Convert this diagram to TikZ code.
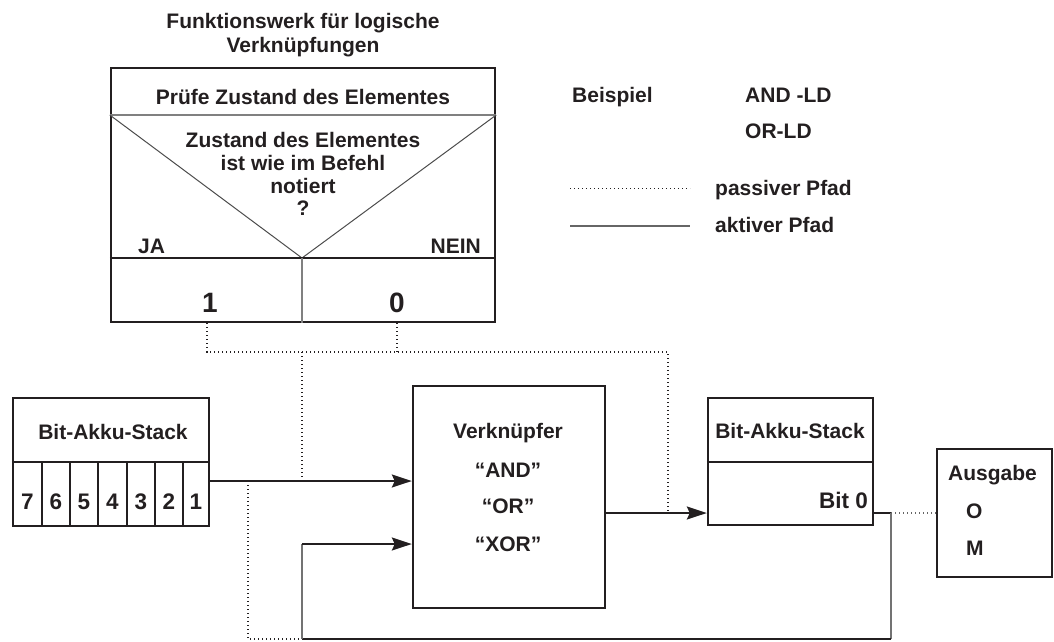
\documentclass[tikz,border=0pt]{standalone}
\usepackage{fontspec}
\setmainfont{Liberation Sans}
\usetikzlibrary{arrows.meta}
\definecolor{ink}{RGB}{35,31,32}
\begin{document}
\begin{tikzpicture}[x=1pt,y=-1pt,
  box/.style={draw=ink, line width=2.4pt, inner sep=0pt},
  txt/.style={font=\fontsize{21}{25}\selectfont\bfseries, text=ink, inner sep=0pt},
  big/.style={font=\fontsize{28}{32}\selectfont\bfseries, text=ink, inner sep=0pt},
  dig/.style={font=\fontsize{22.5}{26}\selectfont\bfseries, text=ink, inner sep=0pt},
  act/.style={line width=1.6pt, draw=ink},
  actg/.style={line width=1.3pt, draw=black!55},
  thin/.style={line width=1pt, draw=black!70},
  pas/.style={line width=1.2pt, draw=ink, dash pattern=on 1.2pt off 2.8pt},
  arr/.style={-{Stealth[length=20pt,width=13pt,inset=3pt]}}
]
\useasboundingbox (0,0) rectangle (1054,641);

% ---------- top box ----------
\node[txt, anchor=base] (t1) at (303,28) {Funktionswerk für logische};
\node[txt, anchor=base] (t2) at (303,52) {Verknüpfungen};
\node[box, minimum width=384pt, minimum height=254pt] (pruef) at (303,195) {};
\coordinate (apex) at (302,258);
\draw[line width=1.5pt, draw=black!50] (pruef.west |- 0,115) -- (pruef.east |- 0,115);
\draw[thin] (pruef.west |- 0,115) -- (apex) -- (pruef.east |- 0,115);
\draw[line width=1.5pt, draw=ink] (pruef.west |- apex) -- (pruef.east |- apex);
\draw[line width=1.5pt, draw=black!50] (apex) -- (apex |- pruef.south);
\node[txt, anchor=base] (p1) at (303,104) {Prüfe Zustand des Elementes};
\node[txt, anchor=base] (q1) at (303,147) {Zustand des Elementes};
\node[txt, anchor=base] (q2) at (303,170) {ist wie im Befehl};
\node[txt, anchor=base] (q3) at (303,193) {notiert};
\node[txt, anchor=base] (q4) at (303,215) {?};
\node[txt, anchor=base west] (ja) at (138,253) {JA};
\node[txt, anchor=base east] (nein) at (481,253) {NEIN};
\node[big, anchor=base] (one) at (210,312) {1};
\node[big, anchor=base] (zero) at (397,312) {0};

% ---------- legend ----------
\node[txt, anchor=base west] (bsp) at (572,102) {Beispiel};
\node[txt, anchor=base west] (andld) at (745,102) {AND -LD};
\node[txt, anchor=base west] (orld) at (745,138) {OR-LD};
\node[txt, anchor=base west] (pasl) at (715,195) {passiver Pfad};
\node[txt, anchor=base west] (aktl) at (715,232) {aktiver Pfad};
\coordinate (lp1) at (570,188); \coordinate (lp2) at (690,188);
\coordinate (la1) at (570,226); \coordinate (la2) at (690,226);
\draw[pas, line width=1pt] (lp1) -- (lp2);
\draw[line width=1.8pt, draw=black!60] (la1) -- (la2);

% ---------- left stack ----------
\node[box, minimum width=196pt, minimum height=128pt] (stackA) at (111,462) {};
\draw[line width=2.2pt, draw=ink] (stackA.west |- 0,462) -- (stackA.east |- 0,462);
\foreach \x in {42,70,98,127,155,183}
  \draw[line width=1.2pt, draw=ink] (\x,462) -- (\x,0 |- stackA.south);
\node[txt, anchor=base] (sAt) at (113,439) {Bit-Akku-Stack};
\foreach \x/\d in {27.5/7,56/6,84/5,112.5/4,141/3,169/2,196/1}
  \node[dig, anchor=base] (d\d) at (\x,509) {\d};

% ---------- Verknuepfer ----------
\node[box, minimum width=192pt, minimum height=222pt] (verk) at (509,497) {};
\node[txt, anchor=base] (v1) at (508,438) {Verknüpfer};
\node[txt, anchor=base] (v2) at (508,477) {“AND”};
\node[txt, anchor=base] (v3) at (508,513) {“OR”};
\node[txt, anchor=base] (v4) at (508,551) {“XOR”};

% ---------- right stack ----------
\node[box, minimum width=165pt, minimum height=127pt] (stackB) at (790.5,461.5) {};
\draw[line width=2.2pt, draw=ink] (stackB.west |- 0,462) -- (stackB.east |- 0,462);
\node[txt, anchor=base] (sBt) at (790,438) {Bit-Akku-Stack};
\node[dig, anchor=base east] (bit0) at (868,508) {Bit 0};

% ---------- Ausgabe ----------
\node[box, minimum width=115pt, minimum height=128pt] (aus) at (994.5,513) {};
\node[txt, anchor=base west] (ausg) at (948,480) {Ausgabe};
\node[txt, anchor=base west] (ao) at (966,518) {O};
\node[txt, anchor=base west] (am) at (966,555) {M};

% ---------- coordinates ----------
\coordinate (bj) at (891,513);
\coordinate (br) at (891,639);
\coordinate (bl) at (302,639);
\coordinate (fb) at (302,544);
\coordinate (dj) at (248,481);
\coordinate (h1) at (207,352);
\coordinate (h2) at (668,352);
\coordinate (hm) at (302,352);
\coordinate (h0) at (397,352);

% ---------- active paths ----------
\draw[act, arr] (stackA.east |- 0,481) -- (verk.west |- 0,481);
\draw[act, arr] (verk.east |- 0,513) -- (stackB.west |- 0,513);
\draw[act] (stackB.east |- bj) -- (bj);
\draw[actg] (bj) -- (br);
\draw[act] (br) -- (bl);
\draw[actg] (bl) -- (fb);
\draw[act, arr] (fb) -- (verk.west |- fb);

% ---------- passive paths ----------
\draw[pas, draw=black!60] (bj) -- (aus.west |- bj);
\draw[pas] (pruef.south -| h1) -- (h1) -- (h2) -- (h2 |- 0,513);
\draw[pas] (pruef.south -| h0) -- (h0);
\draw[pas] (hm) -- (hm |- 0,481);
\draw[pas] (dj) -- (dj |- bl) -- (bl);
\end{tikzpicture}
\end{document}
